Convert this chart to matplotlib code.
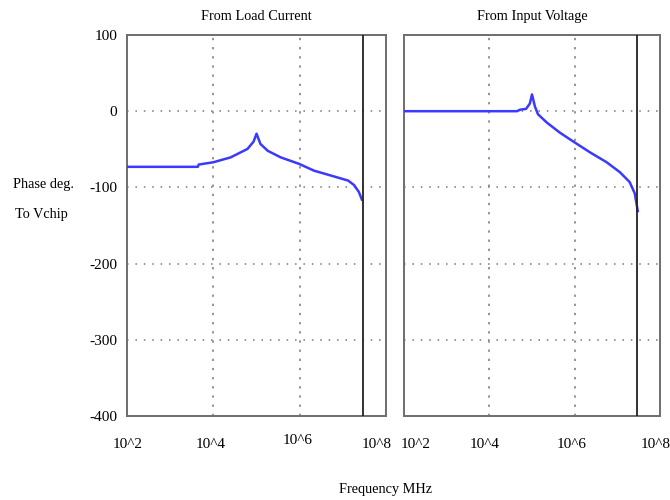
import numpy as np
import matplotlib.pyplot as plt
from matplotlib.transforms import ScaledTranslation

plt.rcParams['font.family'] = ['Liberation Serif', 'DejaVu Serif']
plt.rcParams['axes.unicode_minus'] = False

# phase response, frequency given as log10 exponent
load_logf = [2.0, 3.64, 3.66, 4.0, 4.4, 4.79, 4.93, 5.0, 5.09, 5.26, 5.56, 5.98,
             6.33, 6.72, 7.12, 7.26, 7.37, 7.44]
load_phase = [-73, -73, -70, -67, -60.6, -49.5, -40, -29.5, -43, -52, -60.6, -69,
              -78, -84.4, -91, -97, -106, -116]

input_logf = [2.0, 4.65, 4.72, 4.86, 4.95, 5.0, 5.07, 5.14, 5.35, 5.65, 6.0, 6.36,
              6.75, 7.06, 7.29, 7.41, 7.48]
input_phase = [0, 0, 2, 3, 10, 22, 6, -4, -15, -28, -41, -54,
               -67, -80, -93, -108, -131]

cutoff_logf = 7.47
titles = ['From Load Current', 'From Input Voltage']
xtick_vals = [1e2, 1e4, 1e6, 1e8]
xtick_text = ['10^2', '10^4', '10^6', '10^8']
ytick_vals = [100, 0, -100, -200, -300, -400]

# nudges (px) so neighbouring panel labels don't collide
label_shift = [[(1, 0), (-3, 0), (-2, 4), (-9, 0)],
               [(12, 0), (-5, 0), (-3, 0), (-4, 0)]]

fig = plt.figure(figsize=(6.7, 5), dpi=100)
ax1 = fig.add_axes([0.1896, 0.168, 0.3866, 0.762])
ax2 = fig.add_axes([0.603, 0.168, 0.382, 0.762])

curves = [(load_logf, load_phase), (input_logf, input_phase)]
for i, (ax, (lf, ph)) in enumerate(zip([ax1, ax2], curves)):
    ax.plot(np.power(10.0, lf), ph, color='#3a3aff', lw=1.8, zorder=3)
    ax.axvline(10 ** cutoff_logf, color='#222222', lw=1.3, zorder=4)
    ax.set_xscale('log')
    ax.set_xlim(1e2, 1e8)
    ax.set_ylim(-400, 100)
    ax.set_xticks(xtick_vals)
    ax.set_xticklabels(xtick_text)
    ax.minorticks_off()
    ax.set_yticks(ytick_vals)
    if i > 0:
        ax.set_yticklabels([])
    ax.tick_params(length=0, labelsize=11, pad=7)
    ax.tick_params(axis='x', pad=16)
    for lab, (dx, dy) in zip(ax.get_xticklabels(), label_shift[i]):
        lab.set_transform(lab.get_transform() + ScaledTranslation(dx / 100, dy / 100, fig.dpi_scale_trans))
    # dotted grid only on inner lines
    for yv in [0, -100, -200, -300]:
        ax.axhline(yv, color='#777777', lw=1.1, linestyle=(0, (1, 4.5)), zorder=1)
    for xv in [1e4, 1e6]:
        ax.axvline(xv, color='#777777', lw=1.1, linestyle=(0, (1.5, 4.5)), zorder=1)
    for sp in ax.spines.values():
        sp.set_color('#6e6e6e')
        sp.set_linewidth(1.4)
    ax.set_title(titles[i], fontsize=10.3, pad=11)

fig.text(0.019, 0.631, 'Phase deg.', fontsize=10.3, va='center', ha='left')
fig.text(0.022, 0.571, 'To Vchip', fontsize=10.3, va='center', ha='left')
fig.text(0.575, 0.022, 'Frequency MHz', fontsize=10.3, va='center', ha='center')

fig.savefig('out.png', dpi=100)
